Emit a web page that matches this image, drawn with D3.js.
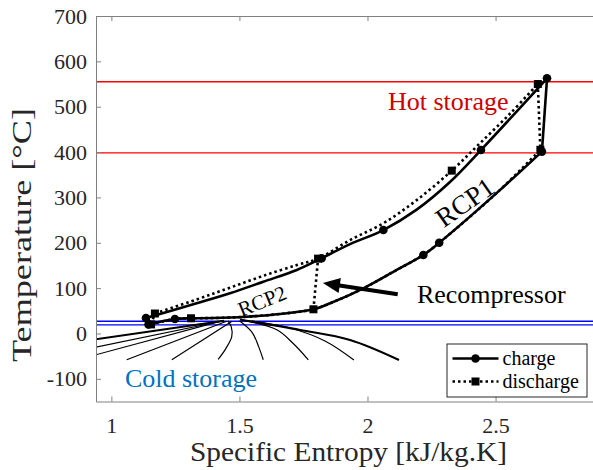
<!DOCTYPE html>
<html>
<head>
<meta charset="utf-8">
<script src="https://cdn.jsdelivr.net/npm/d3@7"></script>
<style>
  html, body { margin: 0; padding: 0; background: #fff; }
  svg { display: block; }
  svg text { font-family: "Liberation Serif", "Times New Roman", serif; }
  .axis path, .axis line { stroke: #808080; }
  .axis text { font-size: 22px; fill: #262626; }
</style>
</head>
<body>
<div id="chart"></div>
<script>
// ── Data (specific entropy kJ/kg.K, temperature °C) ─────────────────────

const X_TICKS = [1, 1.5, 2, 2.5];
const Y_TICKS = [-100, 0, 100, 200, 300, 400, 500, 600, 700];

const HOT_LEVELS  = [555, 398];
const COLD_LEVELS = [27, 19];

// charge cycle (solid line, circles)
const chargeHigh = [[1.135, 34], [1.333, 66.5], [1.463, 88.6], [1.593, 114], [1.724, 140],
  [1.821, 166], [1.932, 197], [2.062, 228], [2.192, 273], [2.322, 334], [2.443, 404.5], [2.701, 562.6]];
const chargeComp = [[2.701, 562.6], [2.681, 401]];
const chargeLow  = [[1.145, 20], [1.248, 32], [1.311, 33.5], [1.398, 34], [1.528, 37], [1.659, 43],
  [1.789, 53.3], [1.854, 66.5], [1.984, 99.6], [2.114, 140], [2.218, 173], [2.280, 200],
  [2.505, 310], [2.681, 401]];
const chargeExp  = [[1.135, 34], [1.145, 20]];
const chargeMarks = [[1.135, 34], [1.145, 20], [1.248, 32], [1.821, 166], [2.062, 228],
  [2.443, 404.5], [2.701, 562.6], [2.681, 401], [2.280, 200], [2.218, 173]];

// discharge cycle (dotted line, squares)
const dischHigh = [[1.170, 44], [1.333, 75], [1.463, 101], [1.593, 127], [1.724, 151], [1.807, 165],
  [1.932, 206], [2.062, 243], [2.192, 294], [2.329, 359], [2.433, 416], [2.557, 485], [2.665, 550]];
const dischExp  = [[2.665, 550], [2.675, 405]];
const dischLow  = [[1.155, 20], [1.248, 32], [1.311, 33.5], [1.398, 34], [1.528, 37], [1.659, 43],
  [1.789, 53.3], [1.854, 66.5], [1.984, 99.6], [2.114, 140], [2.218, 173], [2.280, 200],
  [2.505, 310], [2.675, 405]];
const dischRecomp = [[1.789, 53.3], [1.807, 165]];
const dischComp   = [[1.155, 20], [1.170, 44]];
const dischMarks  = [[1.155, 20], [1.170, 44], [1.311, 33.5], [1.789, 53.3], [1.807, 165],
  [2.329, 359], [2.665, 550], [2.675, 405]];

// cold-side lines fanning out below the cycle
const fanThick = [
  [[0.90, -16], [1.44, 28]],
  [[1.502, 30.8], [1.737, 7.7], [1.932, -14.4], [2.123, -58.5]]
];
const fanThin = [
  [[0.90, -35], [1.43, 27]],
  [[0.90, -53], [1.42, 26]],
  [[1.06, -58], [1.45, 27]],
  [[1.236, -58], [1.471, 27]],
  [[1.455, 28], [1.468, 15], [1.47, -7], [1.445, -35], [1.417, -57]],
  [[1.50, 28], [1.55, 2], [1.575, -29], [1.593, -58]],
  [[1.52, 28], [1.646, 8], [1.71, -22], [1.769, -58]],
  [[1.549, 27.5], [1.698, 12], [1.834, -16.6], [1.947, -58.5]]
];

// ── Layout ─────────────────────────────────────────────────────────────

const W = 593, H = 470;
const FONT = '"Liberation Serif", "Times New Roman", serif';
const svg = d3.select('#chart').append('svg').attr('width', W).attr('height', H)
  .attr('font-family', FONT);

const x = d3.scaleLinear().domain([0.94, 2.9]).range([96, 598]);
const y = d3.scaleLinear().domain([-150, 700]).range([401.5, 16]);

svg.append('clipPath').attr('id', 'plot-clip')
  .append('rect').attr('x', 96).attr('y', 16).attr('width', 502).attr('height', 385.5);

const plot = svg.append('g').attr('clip-path', 'url(#plot-clip)');

const line   = d3.line().x(d => x(d[0])).y(d => y(d[1]));
const smooth = d3.line().x(d => x(d[0])).y(d => y(d[1])).curve(d3.curveCatmullRom.alpha(0.5));

// storage temperature levels
plot.selectAll('.hot').data(HOT_LEVELS).enter().append('line')
  .attr('x1', 96).attr('x2', 598)
  .attr('y1', d => y(d)).attr('y2', d => y(d))
  .attr('stroke', '#ff0000').attr('stroke-width', 1.3);

plot.selectAll('.cold').data(COLD_LEVELS).enter().append('line')
  .attr('x1', 96).attr('x2', 598)
  .attr('y1', d => y(d)).attr('y2', d => y(d))
  .attr('stroke', '#0000ff').attr('stroke-width', 1.3);

// fan lines
fanThin.forEach(pts => plot.append('path').attr('d', smooth(pts))
  .attr('fill', 'none').attr('stroke', '#000').attr('stroke-width', 1.2));
fanThick.forEach(pts => plot.append('path').attr('d', smooth(pts))
  .attr('fill', 'none').attr('stroke', '#000').attr('stroke-width', 2.2));

// charge (solid)
[chargeHigh, chargeLow].forEach(pts => plot.append('path').attr('d', smooth(pts))
  .attr('fill', 'none').attr('stroke', '#000').attr('stroke-width', 2.6));
[chargeComp, chargeExp].forEach(pts => plot.append('path').attr('d', line(pts))
  .attr('fill', 'none').attr('stroke', '#000').attr('stroke-width', 2.6));

// discharge (dotted)
[dischHigh, dischLow].forEach(pts => plot.append('path').attr('d', smooth(pts))
  .attr('fill', 'none').attr('stroke', '#000').attr('stroke-width', 2.6)
  .attr('stroke-dasharray', '2.5,3'));
[dischExp, dischRecomp, dischComp].forEach(pts => plot.append('path').attr('d', line(pts))
  .attr('fill', 'none').attr('stroke', '#000').attr('stroke-width', 2.6)
  .attr('stroke-dasharray', '2.5,3'));

// markers
plot.selectAll('.c-mark').data(chargeMarks).enter().append('circle')
  .attr('cx', d => x(d[0])).attr('cy', d => y(d[1])).attr('r', 4.3).attr('fill', '#000');
plot.selectAll('.d-mark').data(dischMarks).enter().append('rect')
  .attr('x', d => x(d[0]) - 4).attr('y', d => y(d[1]) - 4)
  .attr('width', 8).attr('height', 8).attr('fill', '#000');

// ── Annotations ────────────────────────────────────────────────────────

svg.append('text').attr('x', x(2.080)).attr('y', y(492.7))
  .attr('font-size', 26).attr('fill', '#cc0000').text('Hot storage');

svg.append('text').attr('x', x(1.053)).attr('y', y(-117))
  .attr('font-size', 26).attr('fill', '#0072bd').text('Cold storage');

svg.append('text').attr('x', x(2.193)).attr('y', y(67.2))
  .attr('font-size', 26).attr('fill', '#000').text('Recompressor');

svg.append('text')
  .attr('transform', `translate(${x(2.38)},${y(290)}) rotate(-35)`)
  .attr('text-anchor', 'middle').attr('dy', '0.35em')
  .attr('font-size', 27).text('RCP1');

svg.append('text')
  .attr('transform', `translate(${x(1.588)},${y(72)}) rotate(-22)`)
  .attr('text-anchor', 'middle').attr('dy', '0.35em')
  .attr('font-size', 21).text('RCP2');

// recompressor arrow
const arrowFrom = [2.118, 86.5], arrowTo = [1.826, 111.3];
{
  const x0 = x(arrowFrom[0]), y0 = y(arrowFrom[1]);
  const x1 = x(arrowTo[0]),   y1 = y(arrowTo[1]);
  const len = Math.hypot(x1 - x0, y1 - y0);
  const ux = (x1 - x0) / len, uy = (y1 - y0) / len;
  const headL = 17, headW = 7.5;
  const bx = x1 - ux * headL, by = y1 - uy * headL;
  svg.append('line').attr('x1', x0).attr('y1', y0).attr('x2', bx + ux * 2).attr('y2', by + uy * 2)
    .attr('stroke', '#000').attr('stroke-width', 4);
  svg.append('path')
    .attr('d', `M${x1},${y1}L${bx - uy * headW},${by + ux * headW}L${bx + uy * headW},${by - ux * headW}Z`)
    .attr('fill', '#000');
}

// ── Axes ───────────────────────────────────────────────────────────────

svg.append('g').attr('class', 'axis')
  .attr('transform', 'translate(0,401.5)')
  .call(d3.axisBottom(x).tickValues(X_TICKS).tickSize(-5).tickSizeOuter(0).tickPadding(16)
    .tickFormat(d => String(d)))
  .selectAll('text').style('font-family', FONT);

svg.append('g').attr('class', 'axis')
  .attr('transform', 'translate(0,16)')
  .call(d3.axisTop(x).tickValues(X_TICKS).tickSize(-5).tickSizeOuter(0).tickFormat(''));

svg.append('g').attr('class', 'axis')
  .attr('transform', 'translate(96,0)')
  .call(d3.axisLeft(y).tickValues(Y_TICKS).tickSize(-5).tickSizeOuter(0).tickPadding(9)
    .tickFormat(d => String(d)))
  .selectAll('text').style('font-family', FONT);

svg.append('text')
  .attr('x', 348.5).attr('y', 461)
  .attr('text-anchor', 'middle').attr('font-size', 27).attr('fill', '#262626')
  .attr('textLength', 317).attr('lengthAdjust', 'spacingAndGlyphs')
  .text('Specific Entropy [kJ/kg.K]');

svg.append('text')
  .attr('transform', 'translate(31,235) rotate(-90)')
  .attr('text-anchor', 'middle').attr('font-size', 27).attr('fill', '#262626')
  .attr('textLength', 254).attr('lengthAdjust', 'spacingAndGlyphs')
  .text('Temperature [°C]');

// ── Legend ─────────────────────────────────────────────────────────────

const legend = svg.append('g');
legend.append('rect').attr('x', 447).attr('y', 344).attr('width', 140).attr('height', 53)
  .attr('fill', '#fff').attr('stroke', '#262626').attr('stroke-width', 1);

legend.append('line').attr('x1', 452.5).attr('x2', 498.5).attr('y1', 358.5).attr('y2', 358.5)
  .attr('stroke', '#000').attr('stroke-width', 2.6);
legend.append('circle').attr('cx', 475.5).attr('cy', 358.5).attr('r', 4.3).attr('fill', '#000');
legend.append('text').attr('x', 502.5).attr('y', 365).attr('font-size', 20).text('charge');

legend.append('line').attr('x1', 452.5).attr('x2', 498.5).attr('y1', 381.5).attr('y2', 381.5)
  .attr('stroke', '#000').attr('stroke-width', 2.6).attr('stroke-dasharray', '2.5,3');
legend.append('rect').attr('x', 471.5).attr('y', 377.5).attr('width', 8).attr('height', 8).attr('fill', '#000');
legend.append('text').attr('x', 502.5).attr('y', 388).attr('font-size', 20).text('discharge');
</script>
</body>
</html>
